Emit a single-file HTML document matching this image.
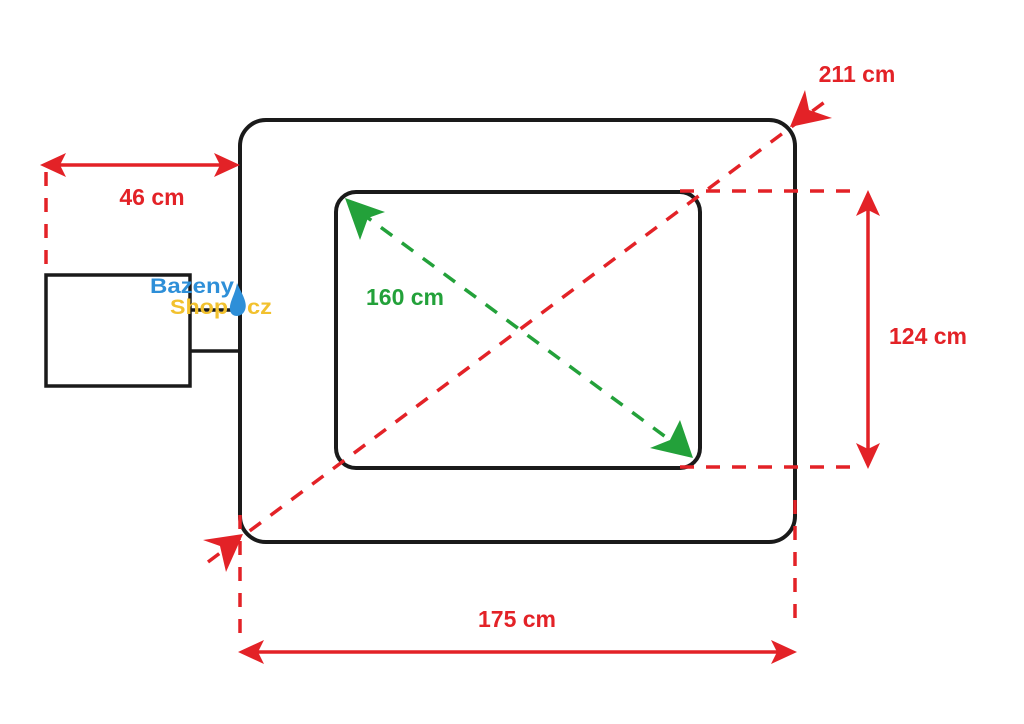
<!DOCTYPE html>
<html><head><meta charset="utf-8"><style>
html,body{margin:0;padding:0;background:#fff;}
svg{display:block}
text{font-family:"Liberation Sans",sans-serif;font-weight:bold;}
</style></head><body>
<svg width="1024" height="724" viewBox="0 0 1024 724" xmlns="http://www.w3.org/2000/svg">
<rect width="1024" height="724" fill="#fff"/>
<rect x="240" y="120" width="555" height="422" rx="26" fill="none" stroke="#1a1a1a" stroke-width="4"/>
<rect x="336" y="192" width="364" height="276" rx="20" fill="none" stroke="#1a1a1a" stroke-width="4"/>
<rect x="46" y="275" width="144" height="111" fill="none" stroke="#1a1a1a" stroke-width="3.5"/>
<line x1="190" y1="310" x2="240" y2="310" stroke="#1a1a1a" stroke-width="3.5"/>
<line x1="190" y1="351" x2="240" y2="351" stroke="#1a1a1a" stroke-width="3.5"/>
<g stroke="#e32227" stroke-width="3.5" fill="none" stroke-dasharray="14,12">
<line x1="46" y1="172" x2="46" y2="275"/>
<line x1="240" y1="515" x2="240" y2="640"/>
<line x1="795" y1="500" x2="795" y2="622"/>
<line x1="680" y1="191" x2="862" y2="191"/>
<line x1="680" y1="467" x2="862" y2="467"/>
<line x1="208" y1="562" x2="830" y2="98"/>
</g>
<g stroke="#e32227" stroke-width="3.5" fill="#e32227">
<line x1="55" y1="165" x2="228" y2="165"/>
<polygon points="40,165 66,153 60,165 66,177" stroke="none"/>
<polygon points="240,165 214,153 220,165 214,177" stroke="none"/>
<line x1="868" y1="205" x2="868" y2="455"/>
<polygon points="868,190 856,216 868,210 880,216" stroke="none"/>
<polygon points="868,469 856,443 868,449 880,443" stroke="none"/>
<line x1="252" y1="652" x2="783" y2="652"/>
<polygon points="238,652 264,640 258,652 264,664" stroke="none"/>
<polygon points="797,652 771,640 777,652 771,664" stroke="none"/>
</g>
<polygon points="243,534 203,540 220,546 226,572" fill="#e32227"/>
<polygon points="790,127 805,90 809,110 832,118" fill="#e32227"/>
<line x1="360" y1="212" x2="678" y2="446" stroke="#23a13a" stroke-width="3.5" stroke-dasharray="14,12"/>
<polygon points="345,198 385,212 368,218 360,240" fill="#23a13a"/>
<polygon points="693,458 650,448 670,440 680,420" fill="#23a13a"/>
<g fill="#e32227" font-size="23">
<text x="152" y="205" text-anchor="middle">46 cm</text>
<text x="857" y="82" text-anchor="middle">211 cm</text>
<text x="928" y="344" text-anchor="middle">124 cm</text>
<text x="517" y="627" text-anchor="middle">175 cm</text>
</g>
<text x="405" y="305" text-anchor="middle" fill="#23a13a" font-size="23">160 cm</text>
<text x="150" y="293" fill="#2e8fd8" font-size="21" textLength="84" lengthAdjust="spacingAndGlyphs">Bazeny</text>
<text x="170" y="314" fill="#f2c12e" font-size="21" textLength="58" lengthAdjust="spacingAndGlyphs">Shop</text>
<text x="247" y="314" fill="#f2c12e" font-size="21" textLength="25" lengthAdjust="spacingAndGlyphs">cz</text>
<path d="M237,283 C242,294 248,303 245,310 C242,318 231,318 230,310 C229,302 235,295 237,283Z" fill="#2e8fd8"/>
</svg>
</body></html>
